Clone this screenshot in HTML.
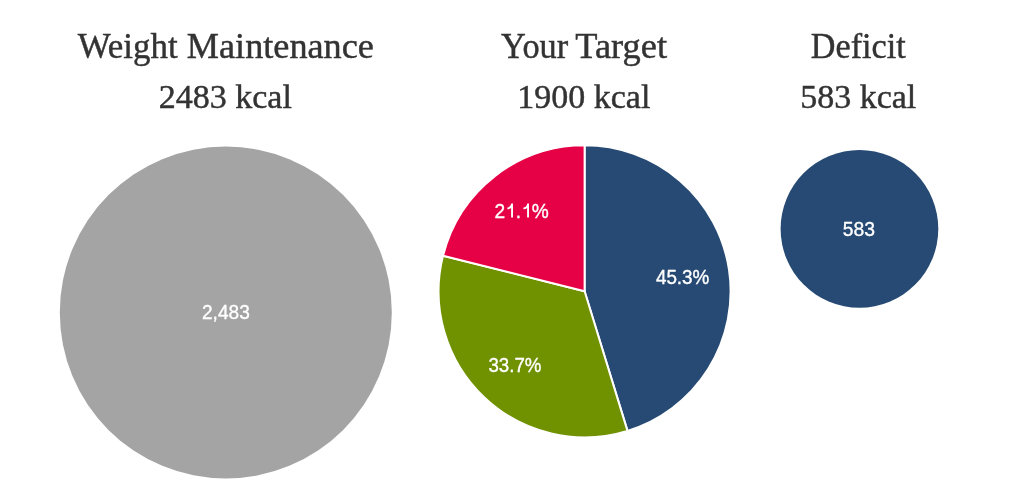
<!DOCTYPE html>
<html>
<head>
<meta charset="utf-8">
<style>
html,body{margin:0;padding:0;background:#fff;}
body{width:1023px;height:490px;position:relative;overflow:hidden;}
svg{position:absolute;left:0;top:0;will-change:transform;}
.ti{font-family:"Liberation Serif",serif;fill:#333;stroke:#333;stroke-width:0.45px;}
.lb{font-family:"Liberation Sans",sans-serif;fill:#fff;font-size:20px;stroke:#fff;stroke-width:0.35px;}
</style>
</head>
<body>
<svg width="1023" height="490" viewBox="0 0 1023 490">
  <g class="ti">
    <text x="77.71" y="57.7" font-size="36" textLength="99.93" lengthAdjust="spacingAndGlyphs">Weight</text>
    <text x="186.84" y="57.7" font-size="36" textLength="187.06" lengthAdjust="spacingAndGlyphs">Maintenance</text>
    <text x="501.08" y="57.7" font-size="36" textLength="67.07" lengthAdjust="spacingAndGlyphs">Your</text>
    <text x="575.25" y="57.7" font-size="36" textLength="91.75" lengthAdjust="spacingAndGlyphs">Target</text>
    <text x="810.85" y="57.7" font-size="36" textLength="94.77" lengthAdjust="spacingAndGlyphs">Deficit</text>
    <text x="225.35" y="107.7" font-size="34" text-anchor="middle">2483 kcal</text>
    <text x="583.80" y="107.7" font-size="34" text-anchor="middle">1900 kcal</text>
    <text x="858.25" y="107.7" font-size="34" text-anchor="middle">583 kcal</text>
  </g>
  <circle cx="225.8" cy="312.5" r="166" fill="#a4a4a4"/>
  <g stroke="#fff" stroke-width="2" stroke-linejoin="round">
    <path d="M584.6,291.3 L584.60,145.30 A146,146 0 0 1 627.49,430.86 Z" fill="#264a73"/>
    <path d="M584.6,291.3 L627.49,430.86 A146,146 0 0 1 443.01,255.69 Z" fill="#709200"/>
    <path d="M584.6,291.3 L443.01,255.69 A146,146 0 0 1 584.60,145.30 Z" fill="#e60045"/>
  </g>
  <circle cx="859.45" cy="228.85" r="78.85" fill="#264a73"/>
  <g class="lb" text-anchor="middle">
    <text x="225.9" y="319.2" textLength="47.8" lengthAdjust="spacingAndGlyphs">2,483</text>
    <text x="521.6" y="217.6" textLength="54.2" lengthAdjust="spacingAndGlyphs">21.1%</text>
    <text x="682.65" y="283.5" textLength="53.5" lengthAdjust="spacingAndGlyphs">45.3%</text>
    <text x="514.95" y="372.2" textLength="52.9" lengthAdjust="spacingAndGlyphs">33.7%</text>
    <text x="858.85" y="235.6" textLength="32.3" lengthAdjust="spacingAndGlyphs">583</text>
  </g>
  <g fill="#e60045"><rect x="505" y="202" width="11" height="18"/><rect x="521" y="202" width="10.6" height="18"/></g>
  <g fill="#fff"><path transform="translate(0,0)" d="M513,203.4 L513,217.6 L511.1,217.6 L511.1,207.9 Q510,209 507.4,209.3 L507.4,207.5 Q510.5,207.1 511.3,203.4 Z"/><path transform="translate(16,0)" d="M513,203.4 L513,217.6 L511.1,217.6 L511.1,207.9 Q510,209 507.4,209.3 L507.4,207.5 Q510.5,207.1 511.3,203.4 Z"/></g>
</svg>
</body>
</html>
